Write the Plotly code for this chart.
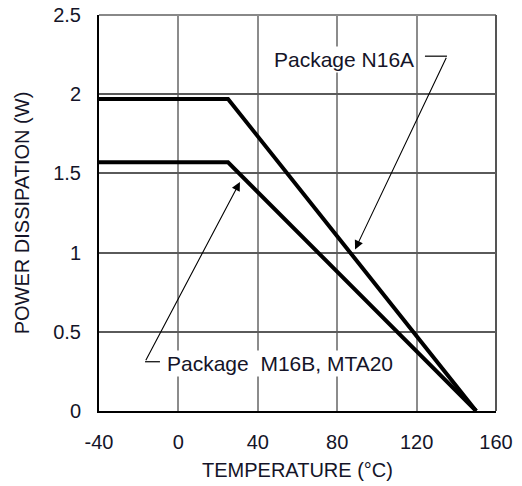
import plotly.graph_objects as go

# Power derating curves (ambient temperature in °C vs. allowed dissipation in W)
temp_n16a = [-40, 25, 150]
power_n16a = [1.97, 1.97, 0.0]

temp_m16b = [-40, 25, 150]
power_m16b = [1.57, 1.57, 0.0]

x_ticks = [-40, 0, 40, 80, 120, 160]
y_ticks = [0, 0.5, 1, 1.5, 2, 2.5]
y_tick_text = ["0", "0.5", "1", "1.5", "2", "2.5"]

FONT = "Liberation Sans, Arial, sans-serif"
TXT = "#141428"

fig = go.Figure()
fig.add_trace(go.Scatter(x=temp_n16a, y=power_n16a, mode="lines",
                         line=dict(color="black", width=4), name="N16A"))
fig.add_trace(go.Scatter(x=temp_m16b, y=power_m16b, mode="lines",
                         line=dict(color="black", width=4), name="M16B, MTA20"))

# package labels with dog-leg leader lines
fig.add_annotation(x=83.5, y=2.216, text="Package N16A", showarrow=False,
                   font=dict(size=21, color=TXT, family=FONT), bgcolor="white")
fig.add_shape(type="line", x0=124.2, y0=2.24, x1=135.3, y1=2.24,
              line=dict(color="black", width=1.2))
fig.add_annotation(x=89, y=1.02, ax=135.3, ay=2.24, axref="x", ayref="y",
                   text="", showarrow=True, arrowhead=2, arrowsize=1.6,
                   arrowwidth=1.1, arrowcolor="black")

fig.add_annotation(x=51, y=0.303, text="Package  M16B, MTA20", showarrow=False,
                   font=dict(size=21, color=TXT, family=FONT), bgcolor="white")
fig.add_shape(type="line", x0=-16.8, y0=0.311, x1=-9.3, y1=0.311,
              line=dict(color="black", width=1.2))
fig.add_annotation(x=31, y=1.446, ax=-16.8, ay=0.311, axref="x", ayref="y",
                   text="", showarrow=True, arrowhead=2, arrowsize=1.6,
                   arrowwidth=1.1, arrowcolor="black")

# top and right frame edges in grey
fig.add_shape(type="line", xref="paper", yref="paper", x0=0, y0=1, x1=1, y1=1,
              line=dict(color="#888888", width=2), layer="below")
fig.add_shape(type="line", xref="paper", yref="paper", x0=1, y0=0, x1=1, y1=1,
              line=dict(color="#555555", width=2), layer="below")

fig.update_layout(
    width=522, height=486,
    margin=dict(l=99, r=26, t=15, b=75),
    paper_bgcolor="white", plot_bgcolor="white",
    showlegend=False,
    font=dict(family=FONT, color=TXT, size=20),
)
fig.update_xaxes(
    range=[-40, 160], tickvals=x_ticks, ticktext=[str(v) for v in x_ticks],
    showgrid=True, gridcolor="#8c8c8c", gridwidth=2,
    showline=True, linecolor="black", linewidth=2,
    zeroline=False, ticks="", ticklabelstandoff=12, automargin=False,
    tickfont=dict(size=20),
    title=dict(text="TEMPERATURE (°C)", font=dict(size=20), standoff=11),
)
fig.update_yaxes(
    range=[0, 2.5], tickvals=y_ticks, ticktext=y_tick_text,
    showgrid=True, gridcolor="#5a5a5a", gridwidth=1.5,
    showline=True, linecolor="black", linewidth=2,
    zeroline=False, ticks="", ticklabelstandoff=12, automargin=False,
    tickfont=dict(size=20),
    title=dict(text="POWER DISSIPATION (W)", font=dict(size=20), standoff=18),
)

fig.write_html("out.html")
